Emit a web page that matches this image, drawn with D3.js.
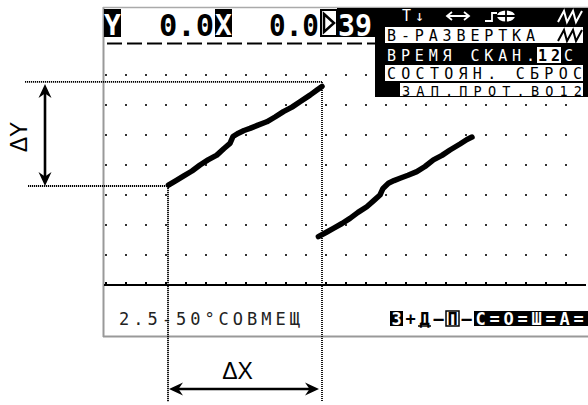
<!DOCTYPE html>
<html><head><meta charset="utf-8">
<script src="https://cdn.jsdelivr.net/npm/d3@7"></script>
<style>html,body{margin:0;padding:0;background:#fff;}svg{display:block;}</style>
</head><body>
<script>
// ---- data ----
const headerLabels = ["Y", "0.0", "X", "0.0", "39"];
const menuItems = ["В-РАЗВЕРТКА", "ВРЕМЯ СКАН.", "СОСТОЯН. СБРОС", "ЗАП.ПРОТ.ВО12"];
const scanTime = "12";
const scanUnit = "С";
const probeLabel = "2.5-50°СОВМЕЩ";
const modeFlags = ["З","+","Д","-","П","-","С","=","О","=","Ш","=","А","="];
const gridCols = d3.range(0, 24);
const gridRows = d3.range(1, 8);
const trace1X = [3.12, 3.5, 3.87, 4.3, 4.7, 5.1, 5.54, 5.9, 6.2, 6.35, 6.62, 6.9, 7.2, 7.6, 8.04, 8.45, 8.87, 9.3, 9.7, 10.2, 10.55, 10.8];
const trace1Y = [3.33, 3.48, 3.63, 3.8, 4.0, 4.17, 4.33, 4.55, 4.72, 4.95, 5.06, 5.15, 5.22, 5.33, 5.44, 5.6, 5.78, 5.93, 6.11, 6.33, 6.5, 6.62];
const trace2X = [10.62, 11.0, 11.37, 11.8, 12.2, 12.6, 13.04, 13.4, 13.7, 13.85, 14.12, 14.4, 14.7, 15.1, 15.54, 15.95, 16.37, 16.8, 17.2, 17.7, 18.05, 18.3];
const trace2Y = [1.61, 1.75, 1.89, 2.05, 2.22, 2.42, 2.61, 2.82, 3.0, 3.22, 3.39, 3.48, 3.56, 3.66, 3.78, 3.95, 4.17, 4.32, 4.5, 4.7, 4.85, 4.93];
const cursorX = [3.1, 10.8];
const cursorY = [3.3, 6.77];
const deltaLabels = ["ΔY", "ΔX"];

// ---- chart ----
const W = 588, H = 405;
const svg = d3.select("body").append("svg").attr("width", W).attr("height", H);
svg.append("rect").attr("width", W).attr("height", H).attr("fill", "#fff");
const x = d3.scaleLinear().domain([0, 24]).range([106, 586]);
const y = d3.scaleLinear().domain([0, 8]).range([285, 45]);
const mono = "'DejaVu Sans Mono', monospace";

// frame
svg.append("line").attr("x1", 103.5).attr("x2", 103.5).attr("y1", 7).attr("y2", 337).attr("stroke", "#999").attr("stroke-width", 2);
svg.append("line").attr("x1", 103).attr("x2", 588).attr("y1", 7.5).attr("y2", 7.5).attr("stroke", "#aaa").attr("stroke-width", 1.5);
svg.append("line").attr("x1", 103).attr("x2", 588).attr("y1", 336.5).attr("y2", 336.5).attr("stroke", "#999").attr("stroke-width", 2);

// grid dots
const dots = [];
gridCols.forEach(c => gridRows.forEach(r => dots.push([c, r])));
svg.append("g").selectAll("rect").data(dots).join("rect")
  .attr("x", d => x(d[0]) - 1).attr("y", d => y(d[1]) - 1).attr("width", 2).attr("height", 2).attr("fill", "#333");

// baseline with ticks
svg.append("line").attr("x1", 104).attr("x2", 586).attr("y1", y(0)).attr("y2", y(0)).attr("stroke", "#000").attr("stroke-width", 2);
svg.append("g").selectAll("rect").data(gridCols).join("rect")
  .attr("x", d => x(d) - 1).attr("y", y(0) - 3).attr("width", 2).attr("height", 3).attr("fill", "#000");

// header underline dashes
svg.append("g").selectAll("line").data(d3.range(0, 14)).join("line")
  .attr("x1", d => x(d) + 1).attr("x2", d => x(d) + 16).attr("y1", 43.5).attr("y2", 43.5)
  .attr("stroke", "#000").attr("stroke-width", 2);

// header
const hdr = svg.append("g").attr("font-family", mono).attr("font-weight", "bold").attr("font-size", 31);
hdr.append("rect").attr("x", 104).attr("y", 9).attr("width", 17).attr("height", 28).attr("fill", "#000");
hdr.append("text").attr("x", 112.5).attr("y", 35).attr("text-anchor", "middle").attr("fill", "#fff").attr("font-size", 28).text(headerLabels[0]);
hdr.append("text").attr("x", 159).attr("y", 36).attr("fill", "#000").attr("textLength", 55).attr("lengthAdjust", "spacingAndGlyphs").text(headerLabels[1]);
hdr.append("rect").attr("x", 215).attr("y", 9).attr("width", 17).attr("height", 28).attr("fill", "#000");
hdr.append("text").attr("x", 223.5).attr("y", 35).attr("text-anchor", "middle").attr("fill", "#fff").attr("font-size", 28).text(headerLabels[2]);
hdr.append("text").attr("x", 269).attr("y", 36).attr("fill", "#000").attr("textLength", 50).attr("lengthAdjust", "spacingAndGlyphs").text(headerLabels[3]);
hdr.append("rect").attr("x", 337).attr("y", 8).attr("width", 251).attr("height", 29).attr("fill", "#000");
hdr.append("rect").attr("x", 321).attr("y", 10).attr("width", 16).attr("height", 26).attr("fill", "#fff").attr("stroke", "#000").attr("stroke-width", 2);
hdr.append("polygon").attr("points", "324,14 334,23 324,32").attr("fill", "none").attr("stroke", "#000").attr("stroke-width", 2.5);
hdr.append("text").attr("x", 338).attr("y", 36).attr("fill", "#fff").attr("textLength", 34).attr("lengthAdjust", "spacingAndGlyphs").text(headerLabels[4]);

// menu panel
const pan = svg.append("g").attr("font-family", mono).attr("font-size", 15);
pan.append("rect").attr("x", 375).attr("y", 8).attr("width", 213).attr("height", 89).attr("fill", "#000");
// row 1 icons
pan.append("text").attr("x", 402).attr("y", 21).attr("fill", "#fff").attr("textLength", 22).text("T↓");
pan.append("path").attr("d", "M447,16 L469,16 M452,12 L447,16 L452,20 M464,12 L469,16 L464,20").attr("fill", "none").attr("stroke", "#fff").attr("stroke-width", 1.8);
pan.append("path").attr("d", "M485,21 L492,21 L492,13 L497,13").attr("fill", "none").attr("stroke", "#fff").attr("stroke-width", 1.8);
pan.append("ellipse").attr("cx", 506).attr("cy", 16).attr("rx", 9).attr("ry", 5.5).attr("fill", "#fff");
pan.append("path").attr("d", "M506,10 L506,22 M497,16 L515,16").attr("stroke", "#000").attr("stroke-width", 1.8);
const zig = (x0, y0, y1) => `M${x0},${y0} L${x0 + 6},${y1} L${x0 + 9},${y0} L${x0 + 15},${y1} L${x0 + 18},${y0} L${x0 + 24},${y1}`;
pan.append("path").attr("d", zig(558, 22, 11)).attr("fill", "none").attr("stroke", "#fff").attr("stroke-width", 2);
// row 2
pan.append("rect").attr("x", 385).attr("y", 27).attr("width", 198).attr("height", 16).attr("fill", "#fff");
pan.append("text").attr("x", 387).attr("y", 41).attr("fill", "#000").attr("textLength", 148).text(menuItems[0]);
pan.append("path").attr("d", zig(558, 41, 30)).attr("fill", "none").attr("stroke", "#000").attr("stroke-width", 2);
// row 3
pan.append("text").attr("x", 387).attr("y", 61).attr("fill", "#fff").attr("textLength", 148).text(menuItems[1]);
pan.append("rect").attr("x", 537).attr("y", 47).attr("width", 24).attr("height", 16).attr("fill", "#fff");
pan.append("text").attr("x", 538).attr("y", 61).attr("fill", "#000").attr("font-weight", "bold").attr("textLength", 22).text(scanTime);
pan.append("text").attr("x", 564).attr("y", 61).attr("fill", "#fff").text(scanUnit);
// row 4
pan.append("rect").attr("x", 385).attr("y", 65).attr("width", 198).attr("height", 16).attr("fill", "#fff");
pan.append("text").attr("x", 387).attr("y", 78.5).attr("fill", "#000").attr("textLength", 195).text(menuItems[2]);
// row 5
pan.append("rect").attr("x", 400).attr("y", 83).attr("width", 183).attr("height", 13).attr("fill", "#fff");
pan.append("text").attr("x", 402).attr("y", 95.5).attr("fill", "#000").attr("font-size", 13.5).attr("textLength", 180).text(menuItems[3]);

// traces
const line = d3.line().x(d => x(d[0])).y(d => y(d[1]));
[[trace1X, trace1Y], [trace2X, trace2Y]].forEach(([xs, ys]) => {
  const pts = xs.map((v, i) => [v, ys[i]]);
  svg.append("path").attr("d", line(pts)).attr("fill", "none").attr("stroke", "#000")
    .attr("stroke-width", 5.5).attr("stroke-linecap", "round").attr("stroke-linejoin", "round");
});

// bottom text
const bot = svg.append("g").attr("font-family", mono).attr("font-size", 17);
bot.append("text").attr("x", 119).attr("y", 325).attr("fill", "#222").attr("textLength", 181).text(probeLabel);
bot.append("rect").attr("x", 474).attr("y", 311).attr("width", 114).attr("height", 15).attr("fill", "#000");
modeFlags.forEach((f, i) => {
  const cx = 390 + i * 14;
  const inv = (i === 0) || i >= 6;
  if (i === 0) bot.append("rect").attr("x", cx).attr("y", 311).attr("width", 13).attr("height", 15).attr("fill", "#000");
  if (i === 4) bot.append("rect").attr("x", cx).attr("y", 311).attr("width", 13).attr("height", 15).attr("fill", "none").attr("stroke", "#000").attr("stroke-width", 1.5);
  if (i === 2) bot.append("line").attr("x1", cx).attr("x2", cx + 13).attr("y1", 326).attr("y2", 326).attr("stroke", "#000").attr("stroke-width", 1.5);
  bot.append("text").attr("x", cx + 6.5).attr("y", 324.5).attr("text-anchor", "middle")
    .attr("font-weight", "bold").attr("fill", inv ? "#fff" : "#000").text(f === "-" ? "—" : f);
});

// cursor lines
const cur = svg.append("g").attr("stroke", "#000").attr("stroke-width", 1.8).attr("stroke-dasharray", "1.2,0.8").attr("fill", "none");
cur.append("line").attr("x1", 25).attr("x2", x(cursorX[1])).attr("y1", y(cursorY[1])).attr("y2", y(cursorY[1]));
cur.append("line").attr("x1", 28).attr("x2", x(cursorX[0])).attr("y1", y(cursorY[0])).attr("y2", y(cursorY[0]));
cur.append("line").attr("x1", x(cursorX[0])).attr("x2", x(cursorX[0])).attr("y1", y(cursorY[0])).attr("y2", 402);
cur.append("line").attr("x1", x(cursorX[1])).attr("x2", x(cursorX[1])).attr("y1", y(cursorY[1])).attr("y2", 402);

// arrows
function arrowHead(tx, ty, ang) {
  const L = 14, Wd = 6.5, N = 9.5;
  const c = Math.cos(ang), s = Math.sin(ang);
  const p = (a, b) => [tx + a * c - b * s, ty + a * s + b * c];
  const pts = [p(0, 0), p(-L, -Wd), p(-N, 0), p(-L, Wd)];
  svg.append("polygon").attr("points", pts.map(q => q.join(",")).join(" ")).attr("fill", "#000");
}
const ax = 45, ayTop = y(cursorY[1]) + 2, ayBot = y(cursorY[0]);
svg.append("line").attr("x1", ax).attr("x2", ax).attr("y1", ayTop + 6).attr("y2", ayBot - 6).attr("stroke", "#000").attr("stroke-width", 2.6);
arrowHead(ax, ayTop, -Math.PI / 2);
arrowHead(ax, ayBot, Math.PI / 2);
const hy = 389, hxL = x(cursorX[0]) + 1, hxR = x(cursorX[1]) - 3;
svg.append("line").attr("x1", hxL + 6).attr("x2", hxR - 6).attr("y1", hy).attr("y2", hy).attr("stroke", "#000").attr("stroke-width", 2.6);
arrowHead(hxL, hy, Math.PI);
arrowHead(hxR, hy, 0);

// delta labels
svg.append("text").attr("transform", "translate(27,137) rotate(-90)").attr("text-anchor", "middle")
  .attr("font-family", "'Liberation Sans', Arial, sans-serif").attr("font-size", 23).text(deltaLabels[0]);
svg.append("text").attr("x", 237.5).attr("y", 379).attr("text-anchor", "middle")
  .attr("font-family", "'Liberation Sans', Arial, sans-serif").attr("font-size", 23).text(deltaLabels[1]);
</script>
</body></html>
